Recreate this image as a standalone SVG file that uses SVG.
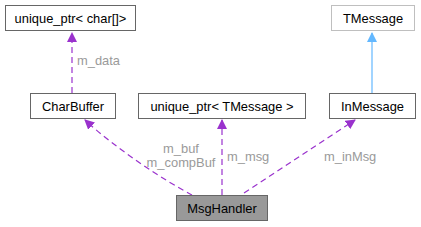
<svg xmlns="http://www.w3.org/2000/svg" width="421" height="227" viewBox="0 0 421 227">
<style>
.box{fill:#fff;stroke:#666;stroke-width:1}
.t{font-family:"Liberation Sans",Arial,sans-serif;font-size:12.9px;fill:#000;text-anchor:middle}
.lbl{font-family:"Liberation Sans",Arial,sans-serif;font-size:12.9px;fill:#9a9a9a}
.use{fill:none;stroke:#9a32cd;stroke-width:1.2;stroke-dasharray:6,4}
.inh{fill:none;stroke:#63b8ff;stroke-width:1.2}
</style>
<defs>
<marker id="ap" markerWidth="10" markerHeight="10" refX="9" refY="5" orient="auto" markerUnits="userSpaceOnUse" viewBox="0 0 10 10"><path d="M0,0 L10,5 L0,10 Z" fill="#9a32cd"/></marker>
<marker id="ab" markerWidth="10" markerHeight="10" refX="9" refY="5" orient="auto" markerUnits="userSpaceOnUse" viewBox="0 0 10 10"><path d="M0,0 L10,5 L0,10 Z" fill="#63b8ff"/></marker>
</defs>
<g id="edges">
<path class="use" d="M72,93 L72,33" marker-end="url(#ap)"/>
<text class="lbl" x="77" y="65">m_data</text>
<path class="inh" d="M372,93 L372,33" marker-end="url(#ab)"/>
<path class="use" d="M192,195 C165,181 115,148 85,120" marker-end="url(#ap)"/>
<text class="lbl" x="181" y="152.5" text-anchor="middle">m_buf</text>
<text class="lbl" x="181" y="166.5" text-anchor="middle">m_compBuf</text>
<path class="use" d="M222,195 L222,120" marker-end="url(#ap)"/>
<text class="lbl" x="227" y="161">m_msg</text>
<path class="use" d="M244,193 L355,120" marker-end="url(#ap)"/>
<text class="lbl" x="324" y="161">m_inMsg</text>
</g>
<g id="n_uptr_char"><rect class="box" x="5.5" y="5.5" width="130" height="25"/><text class="t" x="70.5" y="22.5">unique_ptr&lt; char[]&gt;</text></g>
<g id="n_tmessage"><rect x="331.5" y="5.5" width="83" height="25" fill="#fff" stroke="#bfbfbf"/><text class="t" x="373" y="22.5">TMessage</text></g>
<g id="n_charbuffer"><rect class="box" x="30.5" y="93.5" width="85" height="25"/><text class="t" x="73" y="110.5">CharBuffer</text></g>
<g id="n_uptr_tmsg"><rect class="box" x="138.5" y="93.5" width="167" height="25"/><text class="t" x="222" y="110.5">unique_ptr&lt; TMessage &gt;</text></g>
<g id="n_inmessage"><rect class="box" x="329.5" y="93.5" width="86" height="25"/><text class="t" x="372.5" y="110.5">InMessage</text></g>
<g id="n_msghandler"><rect x="176.5" y="195.5" width="91" height="25" fill="#999" stroke="#666"/><text class="t" x="222" y="212.5">MsgHandler</text></g>
</svg>
